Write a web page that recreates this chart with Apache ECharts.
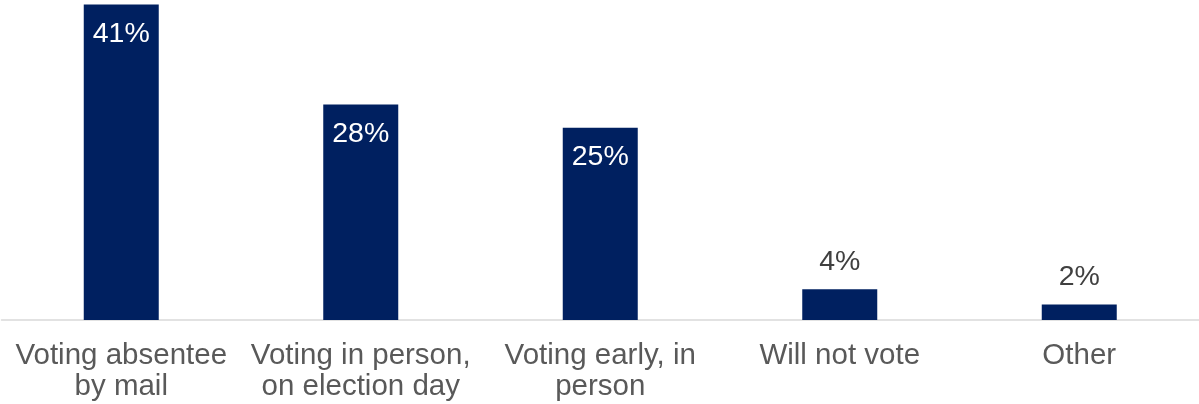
<!DOCTYPE html>
<html>
<head>
<meta charset="utf-8">
<script src="https://cdn.jsdelivr.net/npm/echarts@6/dist/echarts.min.js"></script>
<style>
html,body{margin:0;padding:0;background:#fff;}
#chart{width:1199px;height:404px;}
</style>
</head>
<body>
<div id="chart"></div>
<script>
var categories = ["Voting absentee\nby mail", "Voting in person,\non election day", "Voting early, in\nperson", "Will not vote", "Other"];
var values = [41, 28, 25, 4, 2];

var chart = echarts.init(document.getElementById('chart'), null, {renderer: 'canvas'});
var fontFamily = '"Liberation Sans", Arial, sans-serif';

var seriesData = values.map(function (v) {
  var inside = v >= 10;
  return {
    value: v,
    label: inside ? {
      position: 'insideTop',
      distance: 15,
      color: '#ffffff'
    } : {
      position: 'top',
      distance: 13,
      color: '#404040'
    }
  };
});

chart.setOption({
  animation: false,
  grid: {left: 1.5, top: 0, right: -1.5, bottom: 84},
  xAxis: {
    type: 'category',
    data: categories,
    axisLine: {show: true, lineStyle: {color: '#d9d9d9', width: 1.5}},
    axisTick: {show: false},
    axisLabel: {
      interval: 0,
      margin: 20,
      fontSize: 29.5,
      lineHeight: 31,
      fontFamily: fontFamily,
      color: '#595959'
    }
  },
  yAxis: {
    type: 'value',
    min: 0,
    max: 41.6,
    show: false,
    splitLine: {show: false}
  },
  series: [{
    type: 'bar',
    data: seriesData,
    barWidth: 75,
    itemStyle: {color: '#002060'},
    label: {
      show: true,
      formatter: '{c}%',
      fontSize: 28.5,
      fontFamily: fontFamily
    }
  }]
});
</script>
</body>
</html>
